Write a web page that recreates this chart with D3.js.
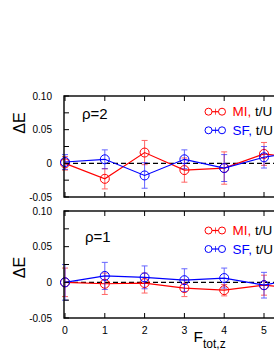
<!DOCTYPE html>
<html>
<head>
<meta charset="utf-8">
<script src="https://cdn.jsdelivr.net/npm/d3@7/dist/d3.min.js"></script>
<style>
  html, body { margin: 0; padding: 0; background: #fff; }
  svg { display: block; font-family: "Liberation Sans", Arial, sans-serif; }
</style>
</head>
<body>
<svg id="chart" width="274" height="354"></svg>
<script>
// ---- data ----
const xValues = [0, 1, 2, 3, 4, 5, 6];
const xTickLabels = ["0", "1", "2", "3", "4", "5"];
const yTickValues = [-0.05, 0, 0.05, 0.10];
const yTickLabels = ["-0.05", "0", "0.05", "0.10"];
const yMinorTicks = [-0.05, -0.025, 0, 0.025, 0.05, 0.075, 0.10];

// panel rho=2
const rho2MI = [0.000, -0.023, 0.016, -0.010, -0.007, 0.014, 0.007];
const rho2MIerr = [0.010, 0.015, 0.018, 0.018, 0.024, 0.017, 0.017];
const rho2SF = [0.002, 0.006, -0.018, 0.006, -0.007, 0.009, 0.019];
const rho2SFerr = [0.011, 0.014, 0.019, 0.014, 0.020, 0.016, 0.016];

// panel rho=1
const rho1MI = [0.000, -0.002, -0.001, -0.008, -0.011, -0.004, -0.009];
const rho1MIerr = [0.020, 0.015, 0.014, 0.012, 0.008, 0.014, 0.014];
const rho1SF = [0.000, 0.009, 0.007, 0.003, 0.006, -0.004, 0.007];
const rho1SFerr = [0.025, 0.019, 0.016, 0.016, 0.014, 0.018, 0.018];

const panelLabels = ["ρ=2", "ρ=1"];
const legendNames = ["MI,", "SF,"];
const legendRest = "t/U";
const colors = { MI: "#ff0000", SF: "#0000ff" };

// ---- drawing ----
const svg = d3.select("#chart");
const x = d3.scaleLinear().domain([0, 8]).range([65, 65 + 8 * 39.8]);

const panels = [
  { top: 96, bottom: 197, label: panelLabels[0], MI: rho2MI, MIerr: rho2MIerr, SF: rho2SF, SFerr: rho2SFerr,
    labelPos: [82, 119], legY: [111.7, 130.3], ylabY: 123, showX: false },
  { top: 211, bottom: 318, label: panelLabels[1], MI: rho1MI, MIerr: rho1MIerr, SF: rho1SF, SFerr: rho1SFerr,
    labelPos: [85, 241.5], legY: [230.5, 249], ylabY: 267.5, showX: true }
];

const right = 420;

panels.forEach(p => {
  const y = d3.scaleLinear().domain([-0.05, 0.10]).range([p.bottom, p.top]);
  const g = svg.append("g");

  // zero dashed line
  g.append("line")
    .attr("x1", x(0)).attr("x2", right)
    .attr("y1", y(0)).attr("y2", y(0))
    .attr("stroke", "#000").attr("stroke-width", 1.2)
    .attr("stroke-dasharray", "5,3");

  // series
  [["MI", p.MI, p.MIerr], ["SF", p.SF, p.SFerr]].forEach(([key, vals, errs]) => {
    const c = colors[key];
    const pts = xValues.map((xv, i) => ({ x: xv, y: vals[i], e: errs[i] }));
    // error bars
    const eb = g.append("g").attr("stroke", c).attr("stroke-width", 1).attr("opacity", 0.6);
    pts.forEach(d => {
      const cx = x(d.x);
      eb.append("line").attr("x1", cx).attr("x2", cx).attr("y1", y(d.y - d.e)).attr("y2", y(d.y + d.e));
      eb.append("line").attr("x1", cx - 3).attr("x2", cx + 3).attr("y1", y(d.y - d.e)).attr("y2", y(d.y - d.e));
      eb.append("line").attr("x1", cx - 3).attr("x2", cx + 3).attr("y1", y(d.y + d.e)).attr("y2", y(d.y + d.e));
    });
    // line
    g.append("path")
      .datum(pts)
      .attr("fill", "none").attr("stroke", c).attr("stroke-width", 1.2)
      .attr("d", d3.line().x(d => x(d.x)).y(d => y(d.y)));
    // circles
    g.selectAll(null).data(pts).enter().append("circle")
      .attr("cx", d => x(d.x)).attr("cy", d => y(d.y)).attr("r", 4.5)
      .attr("fill", "none").attr("stroke", c).attr("stroke-width", 1);
  });

  // frame
  g.append("rect")
    .attr("x", x(0) - 1).attr("y", p.top)
    .attr("width", right).attr("height", p.bottom - p.top)
    .attr("fill", "none").attr("stroke", "#000").attr("stroke-width", 1.4);

  // x ticks (inward, top and bottom)
  const xt = d3.range(0, 8);
  g.selectAll(null).data(xt).enter().append("line")
    .attr("x1", d => x(d)).attr("x2", d => x(d))
    .attr("y1", p.bottom).attr("y2", p.bottom - 5)
    .attr("stroke", "#000").attr("stroke-width", 1);
  g.selectAll(null).data(xt).enter().append("line")
    .attr("x1", d => x(d)).attr("x2", d => x(d))
    .attr("y1", p.top).attr("y2", p.top + 5)
    .attr("stroke", "#000").attr("stroke-width", 1);

  // y ticks (inward)
  g.selectAll(null).data(yMinorTicks).enter().append("line")
    .attr("x1", x(0) - 1).attr("x2", x(0) + 4)
    .attr("y1", d => y(d)).attr("y2", d => y(d))
    .attr("stroke", "#000").attr("stroke-width", 1);

  // y tick labels
  g.selectAll(null).data(yTickValues).enter().append("text")
    .attr("x", 52).attr("y", d => y(d) + 3.5)
    .attr("text-anchor", "end").attr("font-size", 10).attr("fill", "#000")
    .text((d, i) => yTickLabels[i]);

  // x tick labels
  if (p.showX) {
    g.selectAll(null).data(xTickLabels).enter().append("text")
      .attr("x", (d, i) => x(i)).attr("y", 334)
      .attr("text-anchor", "middle").attr("font-size", 10.5).attr("fill", "#000")
      .text(d => d);
  }

  // y axis label
  g.append("text")
    .attr("transform", `translate(25,${p.ylabY}) rotate(-90)`)
    .attr("text-anchor", "middle").attr("font-size", 16).attr("fill", "#000")
    .text("ΔE");

  // panel label
  g.append("text")
    .attr("x", p.labelPos[0]).attr("y", p.labelPos[1])
    .attr("font-size", 15).attr("fill", "#000")
    .text(p.label);

  // legend
  ["MI", "SF"].forEach((key, i) => {
    const ly = p.legY[i];
    const c = colors[key];
    const lg = g.append("g");
    lg.append("line").attr("x1", 208.5).attr("x2", 222).attr("y1", ly).attr("y2", ly)
      .attr("stroke", c).attr("stroke-width", 1.2);
    lg.append("line").attr("x1", 215.5).attr("x2", 215.5).attr("y1", ly - 3).attr("y2", ly + 3)
      .attr("stroke", c).attr("stroke-width", 1).attr("opacity", 0.7);
    [208.5, 222].forEach(cx => {
      lg.append("circle").attr("cx", cx).attr("cy", ly).attr("r", 3.5)
        .attr("fill", "#fff").attr("stroke", c).attr("stroke-width", 1);
    });
    const t = lg.append("text").attr("x", 232.5).attr("y", ly + 4.5).attr("font-size", 13.5);
    t.append("tspan").attr("fill", c).text(legendNames[i]);
    t.append("tspan").attr("fill", "#000").text(" " + legendRest);
  });
});

// x axis label
const xl = svg.append("text").attr("x", 193.5).attr("y", 342).attr("fill", "#000");
xl.append("tspan").attr("font-size", 15.5).text("F");
xl.append("tspan").attr("font-size", 12).attr("dy", 6).attr("dx", 0).text("tot,z");
</script>
</body>
</html>
